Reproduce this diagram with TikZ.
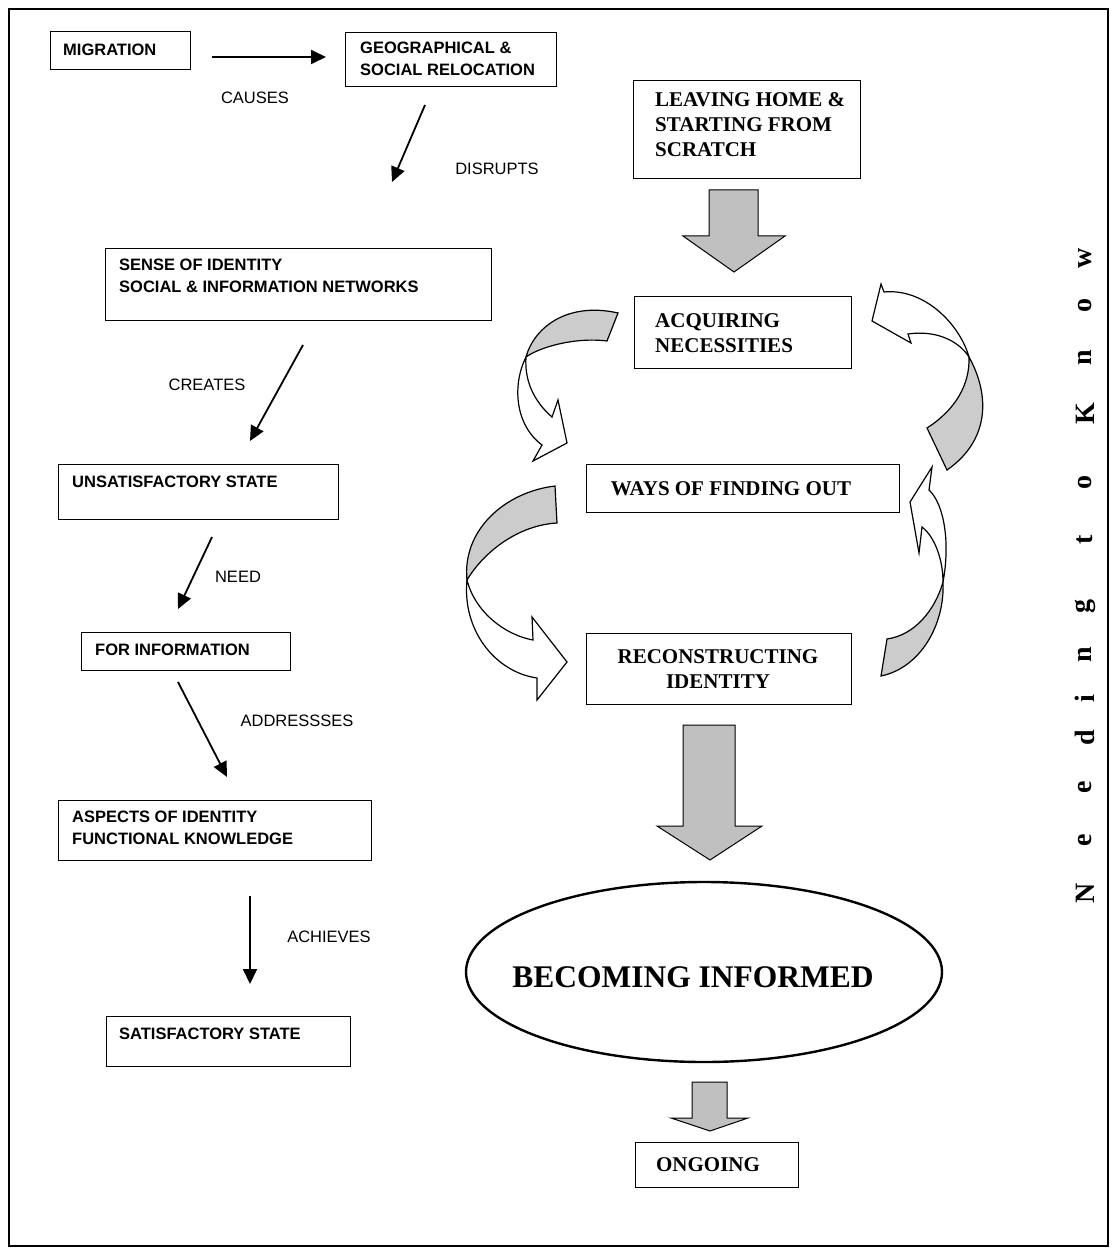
\documentclass[tikz,border=0pt]{standalone}
\usepackage{fontspec}
\setmainfont{Liberation Serif}
\setsansfont{Liberation Sans}
\usetikzlibrary{arrows.meta,calc,shapes.geometric}
\definecolor{blockgrey}{RGB}{192,192,192}
\definecolor{ribbongrey}{RGB}{204,204,204}
\begin{document}
\begin{tikzpicture}[x=1pt,y=-1pt,
 box/.style={draw, line width=1.2pt, anchor=north west, inner sep=0pt},
 stxt/.style={font=\sffamily\bfseries\fontsize{16.5}{22.5}\selectfont, anchor=west, align=left, inner sep=0pt},
 rtxt/.style={font=\bfseries\fontsize{21}{25}\selectfont, inner sep=0pt},
 lab/.style={font=\sffamily\fontsize{16.5}{20}\selectfont, inner sep=0pt},
 conn/.style={line width=1.8pt, -{Triangle[length=15pt,width=14pt]}},
 block/.style={draw, line width=1pt, fill=blockgrey},
 ribbon/.style={draw, line width=1.2pt, fill=ribbongrey},
 ribbonw/.style={draw, line width=1.2pt, fill=white},
 vlet/.style={font=\bfseries\fontsize{28}{28}\selectfont, rotate=90, inner sep=0pt}
]
\useasboundingbox (0,0) rectangle (1115,1249);
\draw[line width=1.5pt] (9,9) rectangle (1108,1246);

% ---------- left column boxes ----------
\node[box, minimum width=140pt, minimum height=38pt] (mig) at (50,31) {};
\node[stxt] (migt) at (63,50) {MIGRATION};
\node[box, minimum width=211pt, minimum height=54pt] (geo) at (345,32) {};
\node[stxt] (geot) at (360,59) {GEOGRAPHICAL \&\\SOCIAL RELOCATION};
\node[box, minimum width=386pt, minimum height=72pt] (sense) at (105,248) {};
\node[stxt] (senset) at (119,276) {SENSE OF IDENTITY\\SOCIAL \& INFORMATION NETWORKS};
\node[box, minimum width=280pt, minimum height=55pt] (unsat) at (58,464) {};
\node[stxt] (unsatt) at (72,482) {UNSATISFACTORY STATE};
\node[box, minimum width=209pt, minimum height=38pt] (forinf) at (81,632) {};
\node[stxt] (forinft) at (95,650) {FOR INFORMATION};
\node[box, minimum width=313pt, minimum height=60pt] (asp) at (58,800) {};
\node[stxt] (aspt) at (72,828) {ASPECTS OF IDENTITY\\FUNCTIONAL KNOWLEDGE};
\node[box, minimum width=244pt, minimum height=50pt] (sat) at (106,1016) {};
\node[stxt] (satt) at (119,1034) {SATISFACTORY STATE};

% ---------- left connectors ----------
\coordinate (c1s) at (212,57);  \coordinate (c1e) at (326,57);
\coordinate (c2s) at (425,105); \coordinate (c2e) at (392,182);
\coordinate (c3s) at (303,345); \coordinate (c3e) at (250,441);
\coordinate (c4s) at (212,537); \coordinate (c4e) at (178,609);
\coordinate (c5s) at (178,682); \coordinate (c5e) at (227,777);
\coordinate (c6s) at (250,896); \coordinate (c6e) at (250,984);
\draw[conn] (c1s) -- (c1e);
\draw[conn] (c2s) -- (c2e);
\draw[conn] (c3s) -- (c3e);
\draw[conn] (c4s) -- (c4e);
\draw[conn] (c5s) -- (c5e);
\draw[conn] (c6s) -- (c6e);
\node[lab] (l1) at (255,98) {CAUSES};
\node[lab] (l2) at (497,169) {DISRUPTS};
\node[lab] (l3) at (207,385) {CREATES};
\node[lab] (l4) at (238,577) {NEED};
\node[lab] (l5) at (297,721) {ADDRESSSES};
\node[lab] (l6) at (329,937) {ACHIEVES};

% ---------- right column boxes ----------
\node[box, minimum width=227pt, minimum height=98pt] (leave) at (633,80) {};
\node[rtxt, anchor=north west, align=left] (leavet) at (655,92) {LEAVING HOME \&\\STARTING FROM\\SCRATCH};
\node[box, minimum width=217pt, minimum height=72pt] (acq) at (634,296) {};
\node[rtxt, anchor=west, align=left] (acqt) at (655,333) {ACQUIRING\\NECESSITIES};
\node[box, minimum width=313pt, minimum height=48pt] (ways) at (586,464) {};
\node[rtxt] (wayst) at (731,489) {WAYS OF FINDING OUT};
\node[box, minimum width=265pt, minimum height=71pt] (recon) at (586,633) {};
\node[rtxt, align=center] (recont) at (718,669) {RECONSTRUCTING\\IDENTITY};
\node[draw, ellipse, line width=2.4pt, minimum width=476pt, minimum height=180pt] (inf) at (704,972) {};
\node[font=\bfseries\fontsize{31.5}{32}\selectfont, inner sep=0pt] (inft) at (693,977) {BECOMING INFORMED};
\node[box, minimum width=163pt, minimum height=45pt] (ong) at (635,1142) {};
\node[rtxt] (ongt) at (708,1165) {ONGOING};

% ---------- grey block arrows ----------
\draw[block] (709,190) -- (758,190) -- (758,236) -- (785,236) -- (734,272) -- (683,236) -- (709,236) -- cycle;
\draw[block] (683,725) -- (735,725) -- (735,826) -- (762,826) -- (710,860) -- (657,826) -- (683,826) -- cycle;
\draw[block] (692,1082) -- (727,1082) -- (727,1118) -- (748,1118) -- (710,1131) -- (671,1118) -- (692,1118) -- cycle;

% ---------- curved ribbon arrows ----------
% 1: acquiring -> ways (left)
\draw[ribbon] (618,313) .. controls (570,302) and (535,325) .. (526,357)
  .. controls (540,347) and (575,337) .. (607,341) -- cycle;
\draw[ribbonw] (526,357) .. controls (512,385) and (515,425) .. (542,445)
  -- (533,461) -- (567,443) -- (558,400) -- (552,417)
  .. controls (538,405) and (524,385) .. (526,357) -- cycle;
% 2: right top -> acquiring
\draw[ribbonw] (884,292) -- (881,284) -- (872,321) -- (911,343) -- (908,334)
  .. controls (935,330) and (958,340) .. (969,357)
  .. controls (960,325) and (925,288) .. (884,292) -- cycle;
\draw[ribbon] (969,357) .. controls (990,395) and (990,440) .. (947,470)
  -- (927,428) .. controls (955,410) and (970,385) .. (969,357) -- cycle;
% 3: ways -> reconstructing (left)
\draw[ribbon] (555,486) .. controls (505,492) and (462,530) .. (467,580)
  .. controls (485,550) and (520,525) .. (557,523) -- cycle;
\draw[ribbonw] (467,580) .. controls (462,630) and (495,672) .. (537,678)
  -- (537,700) -- (567,662) -- (532,617) -- (533,640)
  .. controls (505,635) and (475,612) .. (467,580) -- cycle;
% 4: reconstructing -> ways (right)
\draw[ribbon] (881,676) .. controls (920,668) and (945,625) .. (943,582)
  .. controls (935,610) and (915,635) .. (887,639) -- cycle;
\draw[ribbonw] (943,582) .. controls (950,545) and (945,505) .. (929,490)
  -- (932,467) -- (910,502) -- (919,553) -- (922,527)
  .. controls (935,537) and (943,560) .. (943,582) -- cycle;

% ---------- vertical text ----------
\node[vlet] (v1) at (1085,893) {N};
\node[vlet] (v2) at (1085,840) {e};
\node[vlet] (v3) at (1085,787) {e};
\node[vlet] (v4) at (1085,738) {d};
\node[vlet] (v5) at (1085,699) {i};
\node[vlet] (v6) at (1085,655) {n};
\node[vlet] (v7) at (1085,606) {g};
\node[vlet] (v8) at (1085,540) {t};
\node[vlet] (v9) at (1085,482) {o};
\node[vlet] (v10) at (1085,414) {K};
\node[vlet] (v11) at (1085,358) {n};
\node[vlet] (v12) at (1085,305) {o};
\node[vlet] (v13) at (1085,258) {w};
\end{tikzpicture}
\end{document}
